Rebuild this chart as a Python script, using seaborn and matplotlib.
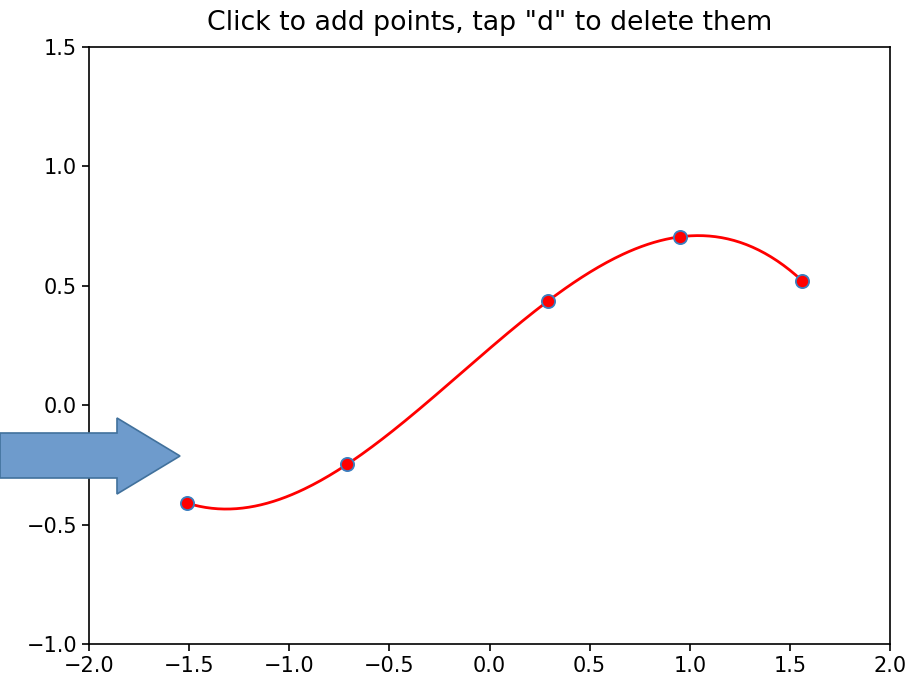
import matplotlib
matplotlib.use("Agg")
import matplotlib.pyplot as plt
from matplotlib.patches import Polygon
from matplotlib.transforms import IdentityTransform
import numpy as np
import pandas as pd
import seaborn as sns

# Clicked points
x_pts = [-1.51, -0.71, 0.29, 0.95, 1.56]
y_pts = [-0.41, -0.247, 0.435, 0.705, 0.522]
x_ticks = [-2.0, -1.5, -1.0, -0.5, 0.0, 0.5, 1.0, 1.5, 2.0]
y_ticks = [-1.0, -0.5, 0.0, 0.5, 1.0, 1.5]
title = 'Click to add points, tap "d" to delete them'

# Smooth curve through the points (polynomial through all of them)
coef = np.polyfit(x_pts, y_pts, len(x_pts) - 1)
xs = np.linspace(min(x_pts), max(x_pts), 300)
curve = pd.DataFrame({"x": xs, "y": np.polyval(coef, xs)})
pts = pd.DataFrame({"x": x_pts, "y": y_pts})

fig = plt.figure(figsize=(9.24, 6.82), dpi=100)
ax = fig.add_axes([89 / 924, 38 / 682, 801 / 924, 597 / 682])

sns.lineplot(data=curve, x="x", y="y", ax=ax, color="red", linewidth=2, sort=False)
ax.plot(pts["x"], pts["y"], "o", markersize=9.5, markerfacecolor="red",
        markeredgecolor="#3a7fc0", markeredgewidth=1.3, zorder=3)

ax.set_xlim(-2, 2)
ax.set_ylim(-1, 1.5)
ax.set_xticks(x_ticks)
ax.set_yticks(y_ticks)
ax.set_xlabel("")
ax.set_ylabel("")
ax.tick_params(labelsize=15, length=5, width=1.2)
for s in ax.spines.values():
    s.set_linewidth(1.2)
ax.set_title(title, fontsize=19.3, pad=12)

# Blue block arrow overlay (figure pixel coords)
arrow = Polygon([(0, 682 - 433), (117, 682 - 433), (117, 682 - 418), (180, 682 - 456),
                 (117, 682 - 494), (117, 682 - 478), (0, 682 - 478)],
                closed=True, facecolor="#6E9BCC", edgecolor="#41719C",
                linewidth=1.2, zorder=10)
arrow.set_transform(IdentityTransform())
fig.patches.append(arrow)

fig.savefig("out.png", dpi=100)
